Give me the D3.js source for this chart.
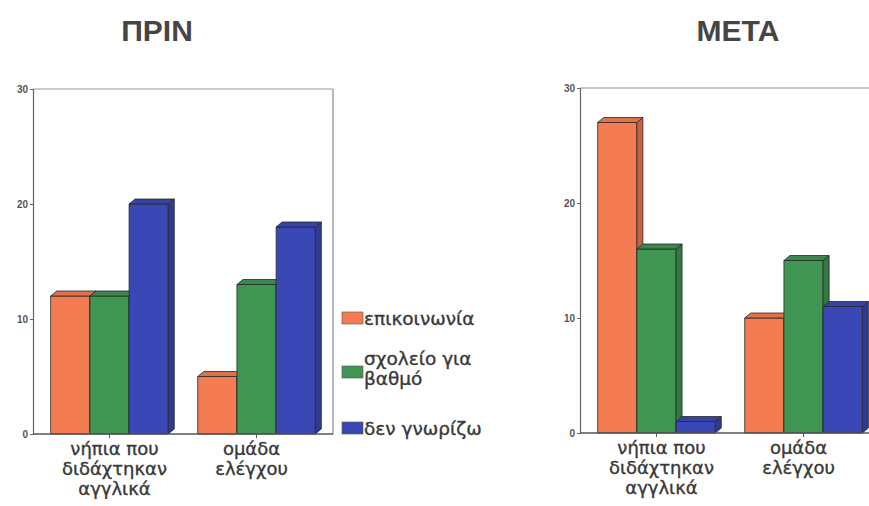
<!DOCTYPE html>
<html>
<head>
<meta charset="utf-8">
<script src="https://cdn.jsdelivr.net/npm/d3@7"></script>
<style>
  body { margin: 0; background: #fff; }
  svg { display: block; font-family: "Liberation Sans", Arial, sans-serif; }
</style>
</head>
<body>
<div id="chart"></div>
<script>
const width = 869;
const height = 506;

// data
const groups = ["νήπια που διδάχτηκαν αγγλικά", "ομάδα ελέγχου"];
const groupLines = [["νήπια που", "διδάχτηκαν", "αγγλικά"], ["ομάδα", "ελέγχου"]];
const series = ["επικοινωνία", "σχολείο για βαθμό", "δεν γνωρίζω"];
const seriesLines = [["επικοινωνία"], ["σχολείο για", "βαθμό"], ["δεν γνωρίζω"]];
const colors = ["#f47c52", "#3f9552", "#3a48b6"];
const yTicks = [0, 10, 20, 30];

const beforeValues = [
  [12, 12, 20],
  [5, 13, 18],
];
const afterValues = [
  [27, 16, 1],
  [10, 15, 11],
];

const labelFont = "DejaVu Sans, sans-serif";
const labelShift = [5, -5];

const svg = d3
  .select("#chart")
  .append("svg")
  .attr("width", width)
  .attr("height", height);

// clip the bottom like the scan
svg
  .append("clipPath")
  .attr("id", "page")
  .append("rect")
  .attr("x", 0)
  .attr("y", 0)
  .attr("width", width)
  .attr("height", 499);

const dx = 6;
const dy = 5;

function drawPanel(values, title, titleX, left, right, top, bottom) {
  const g = svg.append("g");

  const y = d3.scaleLinear().domain([0, 30]).range([bottom, top]);
  const x0 = d3
    .scaleBand()
    .domain(groups)
    .range([left, right])
    .paddingInner(0.2)
    .paddingOuter(0.12);
  const x1 = d3.scaleBand().domain(series).range([0, x0.bandwidth()]);

  // title
  svg
    .append("text")
    .attr("x", titleX)
    .attr("y", 41)
    .attr("text-anchor", "middle")
    .attr("font-size", 30)
    .attr("font-weight", "bold")
    .attr("fill", "#454545")
    .text(title);

  // frame top and right
  g.append("line")
    .attr("x1", left)
    .attr("x2", right)
    .attr("y1", top)
    .attr("y2", top)
    .attr("stroke", "#999")
    .attr("stroke-width", 1.2);
  g.append("line")
    .attr("x1", right)
    .attr("x2", right)
    .attr("y1", top)
    .attr("y2", bottom)
    .attr("stroke", "#888")
    .attr("stroke-width", 1.2);

  // y axis
  const yAxis = g
    .append("g")
    .attr("transform", `translate(${left},0)`)
    .call(d3.axisLeft(y).tickValues(yTicks).tickSize(3).tickPadding(2));
  yAxis.select(".domain").attr("stroke", "#666").attr("stroke-width", 1.2);
  yAxis.selectAll(".tick line").attr("stroke", "#666");
  yAxis
    .selectAll(".tick text")
    .attr("font-size", 10)
    .attr("font-weight", "bold")
    .attr("fill", "#555")
    .attr("font-family", "Liberation Sans, Arial, sans-serif");

  // bars
  values.forEach((row, gi) => {
    row.forEach((v, si) => {
      const bx = x0(groups[gi]) + x1(series[si]);
      const w = x1.bandwidth();
      const by = y(v);
      const y0 = y(0);
      const c = d3.color(colors[si]);
      const bar = g.append("g").attr("stroke", "#2a2a2a").attr("stroke-width", 0.8).attr("stroke-linejoin", "round");
      bar
        .append("rect")
        .attr("x", bx)
        .attr("y", by)
        .attr("width", w)
        .attr("height", y0 - by)
        .attr("fill", c.formatHex());
      bar
        .append("polygon")
        .attr("points", [
          [bx + w, by],
          [bx + w + dx, by - dy],
          [bx + w + dx, y0 - dy],
          [bx + w, y0],
        ].join(" "))
        .attr("fill", c.darker(0.6).formatHex());
      bar
        .append("polygon")
        .attr("points", [
          [bx, by],
          [bx + dx, by - dy],
          [bx + w + dx, by - dy],
          [bx + w, by],
        ].join(" "))
        .attr("fill", c.darker(0.25).formatHex());
    });
  });

  // x axis
  const xAxis = g
    .append("g")
    .attr("transform", `translate(0,${bottom})`)
    .call(d3.axisBottom(x0).tickSize(4).tickFormat(""));
  xAxis.select(".domain").attr("stroke", "#555").attr("stroke-width", 1.4).attr("d", `M${left},0H${right}`);
  xAxis.selectAll(".tick line").attr("stroke", "#555");

  // group labels
  groups.forEach((grp, gi) => {
    const cx = x0(grp) + x0.bandwidth() / 2 + labelShift[gi];
    g.append("text")
      .attr("clip-path", "url(#page)")
      .attr("text-anchor", "middle")
      .attr("font-family", labelFont)
      .attr("font-size", 18)
      .attr("fill", "#383838")
      .attr("stroke", "#383838")
      .attr("stroke-width", 0.35)
      .selectAll("tspan")
      .data(groupLines[gi])
      .join("tspan")
      .attr("x", cx)
      .attr("y", (d, i) => bottom + 21 + i * 20)
      .text((d) => d);
  });
}

drawPanel(beforeValues, "ΠΡΙΝ", 157, 33, 333, 89, 434);
drawPanel(afterValues, "ΜΕΤΑ", 738, 580, 880, 88, 433);

// legend
const legendTop = [312, 366, 422];
const legend = svg.append("g");
series.forEach((s, i) => {
  legend
    .append("rect")
    .attr("x", 342)
    .attr("y", legendTop[i])
    .attr("width", 21)
    .attr("height", 12)
    .attr("fill", colors[i])
    .attr("stroke", "#555")
    .attr("stroke-width", 0.6);
  const lines = seriesLines[i];
  legend
    .append("text")
    .attr("font-family", labelFont)
    .attr("font-size", 18.5)
    .attr("fill", "#383838")
    .attr("stroke", "#383838")
    .attr("stroke-width", 0.35)
    .selectAll("tspan")
    .data(lines)
    .join("tspan")
    .attr("x", 364)
    .attr("y", (d, j) => legendTop[i] + 13 - (lines.length - 1) * 18 + j * 20 + (lines.length > 1 ? 4 : 0))
    .text((d) => d);
});
</script>
</body>
</html>
